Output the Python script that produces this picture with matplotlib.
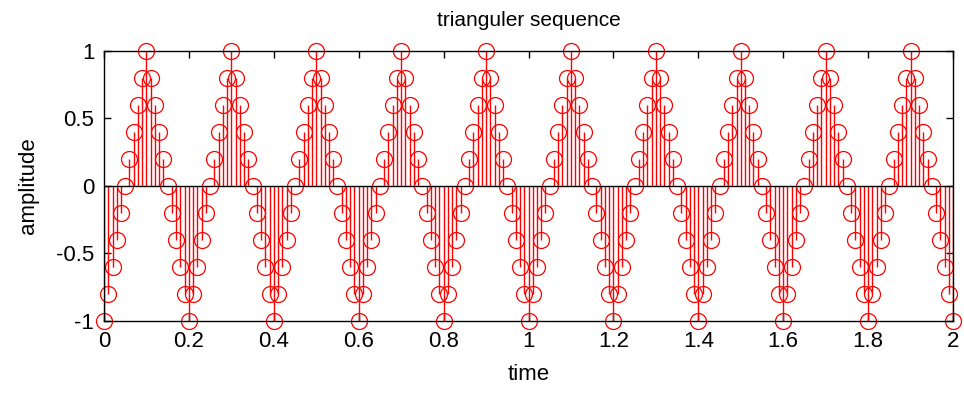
import matplotlib

matplotlib.use("Agg")
import matplotlib.pyplot as plt
import numpy as np

plt.rcParams["font.family"] = ["Liberation Sans", "DejaVu Sans"]

# one sample every 0.01 s, 10 periods of 0.2 s
amplitude = [
    -1, -0.8, -0.6, -0.4, -0.2, 0, 0.2, 0.4, 0.6, 0.8, 1, 0.8, 0.6, 0.4, 0.2, 0, -0.2, -0.4, -0.6, -0.8,
    -1, -0.8, -0.6, -0.4, -0.2, 0, 0.2, 0.4, 0.6, 0.8, 1, 0.8, 0.6, 0.4, 0.2, 0, -0.2, -0.4, -0.6, -0.8,
    -1, -0.8, -0.6, -0.4, -0.2, 0, 0.2, 0.4, 0.6, 0.8, 1, 0.8, 0.6, 0.4, 0.2, 0, -0.2, -0.4, -0.6, -0.8,
    -1, -0.8, -0.6, -0.4, -0.2, 0, 0.2, 0.4, 0.6, 0.8, 1, 0.8, 0.6, 0.4, 0.2, 0, -0.2, -0.4, -0.6, -0.8,
    -1, -0.8, -0.6, -0.4, -0.2, 0, 0.2, 0.4, 0.6, 0.8, 1, 0.8, 0.6, 0.4, 0.2, 0, -0.2, -0.4, -0.6, -0.8,
    -1, -0.8, -0.6, -0.4, -0.2, 0, 0.2, 0.4, 0.6, 0.8, 1, 0.8, 0.6, 0.4, 0.2, 0, -0.2, -0.4, -0.6, -0.8,
    -1, -0.8, -0.6, -0.4, -0.2, 0, 0.2, 0.4, 0.6, 0.8, 1, 0.8, 0.6, 0.4, 0.2, 0, -0.2, -0.4, -0.6, -0.8,
    -1, -0.8, -0.6, -0.4, -0.2, 0, 0.2, 0.4, 0.6, 0.8, 1, 0.8, 0.6, 0.4, 0.2, 0, -0.2, -0.4, -0.6, -0.8,
    -1, -0.8, -0.6, -0.4, -0.2, 0, 0.2, 0.4, 0.6, 0.8, 1, 0.8, 0.6, 0.4, 0.2, 0, -0.2, -0.4, -0.6, -0.8,
    -1, -0.8, -0.6, -0.4, -0.2, 0, 0.2, 0.4, 0.6, 0.8, 1, 0.8, 0.6, 0.4, 0.2, 0, -0.2, -0.4, -0.6, -0.8,
    -1,
]
time = np.linspace(0, 2, len(amplitude))

x_ticks = [0, 0.2, 0.4, 0.6, 0.8, 1, 1.2, 1.4, 1.6, 1.8, 2]
x_tick_labels = ["0", "0.2", "0.4", "0.6", "0.8", "1", "1.2", "1.4", "1.6", "1.8", "2"]
y_ticks = [-1, -0.5, 0, 0.5, 1]
y_tick_labels = ["-1", "-0.5", "0", "0.5", "1"]

fig = plt.figure(figsize=(9.64, 3.94), dpi=100)
ax = fig.add_axes([0.1079, 0.1853, 0.8807, 0.6853])

markerline, stemlines, baseline = ax.stem(time, amplitude, linefmt="r-", markerfmt="ro", basefmt="k-")
stemlines.set_linewidth(1.0)
markerline.set_markerfacecolor("none")
markerline.set_markeredgecolor("red")
markerline.set_markersize(11.5)
markerline.set_markeredgewidth(0.9)
markerline.set_clip_on(False)
baseline.set_linewidth(1.0)
baseline.set_xdata([0, 2])

ax.set_xlim(0, 2)
ax.set_ylim(-1, 1)
ax.set_xticks(x_ticks)
ax.set_xticklabels(x_tick_labels)
ax.set_yticks(y_ticks)
ax.set_yticklabels(y_tick_labels)
ax.tick_params(direction="in", length=5, width=1, labelsize=16, top=True, right=True)
ax.tick_params(axis="x", pad=7)
ax.tick_params(axis="y", pad=7)
for spine in ax.spines.values():
    spine.set_linewidth(1.0)

ax.set_xlabel("time", fontsize=16, labelpad=9)
ax.set_ylabel("amplitude", fontsize=16, labelpad=12)
ax.set_title("trianguler sequence", fontsize=15, pad=18)

fig.savefig("out.png", dpi=100)
